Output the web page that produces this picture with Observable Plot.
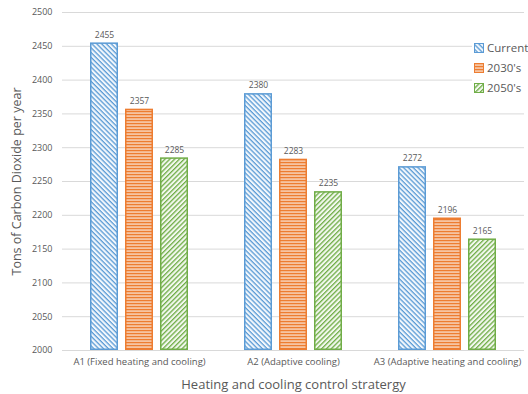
<!DOCTYPE html>
<html><head><meta charset="utf-8">
<script src="https://cdn.jsdelivr.net/npm/d3@7"></script>
<script src="https://cdn.jsdelivr.net/npm/@observablehq/plot@0.6"></script>
<style>
body{margin:0;background:#fff;font-family:"Open Sans",sans-serif;}
#wrap{position:relative;width:528px;height:394px;}
#legend{position:absolute;left:472px;top:38px;font-size:11.5px;color:#595959;line-height:20px;background:#fff;padding-left:2px;}
#legend div{display:flex;align-items:center;gap:3px;}
</style></head><body>
<div id="wrap"><div id="legend"></div></div>
<script>
const categories = ["A1 (Fixed heating and cooling)", "A2 (Adaptive cooling)", "A3 (Adaptive heating and cooling)"];
const seriesNames = ["Current", "2030's", "2050's"];
const current = [2455, 2380, 2272];
const s2030 = [2357, 2283, 2196];
const s2050 = [2285, 2235, 2165];
const yTicks = [2000, 2050, 2100, 2150, 2200, 2250, 2300, 2350, 2400, 2450, 2500];

const colors = {"Current": "#5B9BD5", "2030's": "#ED7D31", "2050's": "#70AD47"};
const patternId = {"Current": "pCur", "2030's": "p2030", "2050's": "p2050"};

const data = [];
categories.forEach((c, i) => {
  [current, s2030, s2050].forEach((arr, j) => data.push({cat: c, series: seriesNames[j], value: arr[i]}));
});

const defs = `
<defs>
<pattern id="pCur" patternUnits="userSpaceOnUse" width="3.4" height="3.4" patternTransform="rotate(45)">
  <rect width="3.4" height="3.4" fill="#f2f7fc"/><rect width="3.4" height="1.3" fill="#5B9BD5"/>
</pattern>
<pattern id="p2030" patternUnits="userSpaceOnUse" width="4" height="3">
  <rect width="4" height="3" fill="#f6c4a2"/><rect width="4" height="1.2" fill="#ED7D31"/>
</pattern>
<pattern id="p2050" patternUnits="userSpaceOnUse" width="3.4" height="3.4" patternTransform="rotate(-45)">
  <rect width="3.4" height="3.4" fill="#f2f8ee"/><rect width="3.4" height="1.3" fill="#70AD47"/>
</pattern>
</defs>`;

const chart = Plot.plot({
  width: 528, height: 394,
  marginTop: 12, marginBottom: 44, marginLeft: 61, marginRight: 3,
  style: {fontFamily: "'Open Sans', sans-serif", color: "#595959", background: "#fff"},
  fx: {domain: categories, padding: 0, label: null, axis: null},
  x: {domain: seriesNames, paddingInner: 0.2, paddingOuter: 0.74, axis: null},
  y: {domain: [2000, 2500], ticks: yTicks, label: null},
  marks: [
    Plot.gridY(yTicks, {stroke: "#d9d9d9", strokeOpacity: 1}),
    Plot.axisY(yTicks, {tickSize: 0, tickPadding: 10, fontSize: 9, fill: "#595959", label: null, tickFormat: d => String(d)}),
    Plot.barY(data, {fx: "cat", x: "series", y1: 2000, y2: "value",
      fill: d => `url(#${patternId[d.series]})`, stroke: d => colors[d.series], strokeWidth: 1.5, inset: 0.75}),
    Plot.text(data, {fx: "cat", x: "series", y: "value", text: d => String(d.value), dy: -8, fontSize: 8.5, fill: "#595959"}),
    Plot.axisFx({anchor: "bottom", tickSize: 0, tickPadding: 8, fontSize: 9.5, fill: "#595959", label: null}),
    Plot.text(["Heating and cooling control stratergy"], {frameAnchor: "bottom", dy: 38, fontSize: 13, fill: "#595959", facet: "super"}),
    Plot.text(["Tons of Carbon Dioxide per year"], {frameAnchor: "left", dx: -46, rotate: -90, textAnchor: "middle", fontSize: 12.5, fill: "#595959", facet: "super"})
  ]
});
chart.insertAdjacentHTML("afterbegin", defs);
document.getElementById("wrap").prepend(chart);

const lg = document.getElementById("legend");
seriesNames.forEach(s => {
  const row = document.createElement("div");
  row.innerHTML = `<svg width="10" height="10"><rect x="0.5" y="0.5" width="9" height="9" fill="url(#${patternId[s]})" stroke="${colors[s]}" stroke-width="1"/></svg><span>${s}</span>`;
  lg.appendChild(row);
});
</script>
</body></html>
